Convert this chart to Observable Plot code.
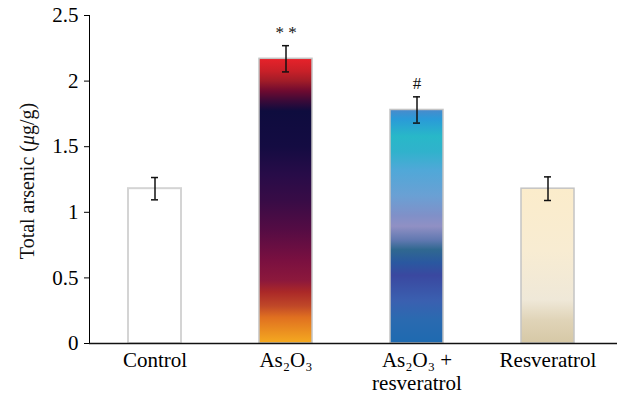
<!DOCTYPE html>
<html>
<head>
<meta charset="utf-8">
<script src="https://cdn.jsdelivr.net/npm/d3@7"></script>
<script src="https://cdn.jsdelivr.net/npm/@observablehq/plot@0.6"></script>
<style>
  html, body { margin: 0; padding: 0; background: #fff; }
  #chart { width: 617px; height: 395px; overflow: hidden; }
</style>
</head>
<body>
<div id="chart"></div>
<script>
// ---- data ----
const categories = ["Control", "As₂O₃", "As₂O₃ +\nresveratrol", "Resveratrol"];
const values = [1.18, 2.17, 1.78, 1.18];
const errors = [0.085, 0.1, 0.1, 0.09];
const signif = ["", "* *", "#", ""];
const yTicks = [0, 0.5, 1, 1.5, 2, 2.5];
const fillIds = ["white", "url(#gAs)", "url(#gMix)", "url(#gRes)"];

// gradient stops (offset, colour), top -> bottom
const stopsAs = [[0,"#e8222a"],[0.045,"#c82028"],[0.08,"#a01c28"],[0.115,"#6e0a30"],[0.15,"#3a0a38"],[0.185,"#0e0c3e"],[0.31,"#140c42"],[0.41,"#280c48"],[0.5,"#380c46"],[0.6,"#540c44"],[0.71,"#7a1040"],[0.78,"#8c183c"],[0.82,"#aa2828"],[0.87,"#c04828"],[0.91,"#e07020"],[1,"#f5aa20"]];
const stopsMix = [[0,"#4a8acb"],[0.04,"#2a9ad8"],[0.115,"#28b8c8"],[0.18,"#30b2cc"],[0.26,"#50a8d8"],[0.37,"#6aa0d4"],[0.455,"#8090c8"],[0.5,"#9090c4"],[0.56,"#6078b0"],[0.6,"#306890"],[0.655,"#2a58a0"],[0.71,"#3a48a0"],[0.82,"#3a60b0"],[0.9,"#2a6ab0"],[1,"#1e6ab0"]];
const stopsRes = [[0,"#fbeccb"],[0.4,"#f8ecd2"],[0.72,"#efe8d8"],[0.85,"#e0d4b8"],[1,"#d6c8a6"]];

const rows = categories.map((c, i) => ({cat: c, v: values[i], e: errors[i], s: signif[i], f: fillIds[i]}));

const plot = Plot.plot({
  width: 617,
  height: 395,
  marginLeft: 89,
  marginRight: 4,
  marginTop: 15,
  marginBottom: 52,
  style: {background: "#fff", fontFamily: "'Liberation Serif', serif", fontSize: "21px", color: "#000"},
  x: {domain: categories, paddingInner: 0.595, paddingOuter: 0.2975},
  y: {domain: [0, 2.5], ticks: yTicks, tickSize: 5, tickPadding: 6, line: true, label: null, tickFormat: d => String(d)},
  color: {type: "identity"},
  marks: [
    Plot.barY(rows, {x: "cat", y: "v", fill: "f", stroke: d => d.cat === "Control" ? "#d4d4d4" : "#c4c4c4", strokeWidth: d => d.cat === "Control" ? 2 : 1.5}),
    Plot.ruleX(rows, {x: "cat", y1: d => d.v - d.e, y2: d => d.v + d.e, stroke: "#111", strokeWidth: 1.5}),
    Plot.tickY(rows, {x: "cat", y: d => d.v - d.e, stroke: "#111", strokeWidth: 1.5, insetLeft: 23, insetRight: 23}),
    Plot.tickY(rows, {x: "cat", y: d => d.v + d.e, stroke: "#111", strokeWidth: 1.5, insetLeft: 23, insetRight: 23}),
    Plot.text(rows.filter(d => d.s), {x: "cat", y: d => d.v + d.e, text: "s", dy: -13, fontSize: 17, fill: "#111"}),
    Plot.axisX({tickSize: 0, tickPadding: 8, label: null, lineHeight: 1.06, fontSize: 21}),
    Plot.ruleY([0], {stroke: "#111", strokeWidth: 1.3, insetRight: -4})
  ]
});

const svg = d3.select(plot);
const defs = svg.insert("defs", ":first-child");
function grad(id, stops) {
  const g = defs.append("linearGradient").attr("id", id).attr("x1", 0).attr("y1", 0).attr("x2", 0).attr("y2", 1);
  stops.forEach(([o, c]) => g.append("stop").attr("offset", o).attr("stop-color", c));
}
grad("gAs", stopsAs);
grad("gMix", stopsMix);
grad("gRes", stopsRes);

// y-axis title with italic mu
const t = svg.append("text")
  .attr("transform", "translate(29,181) rotate(-90)")
  .attr("text-anchor", "middle")
  .attr("dominant-baseline", "middle")
  .attr("font-size", 20)
  .attr("fill", "#111");
t.append("tspan").text("Total arsenic (");
t.append("tspan").attr("font-style", "italic").text("μ");
t.append("tspan").text("g/g)");

document.getElementById("chart").appendChild(plot);
</script>
</body>
</html>
